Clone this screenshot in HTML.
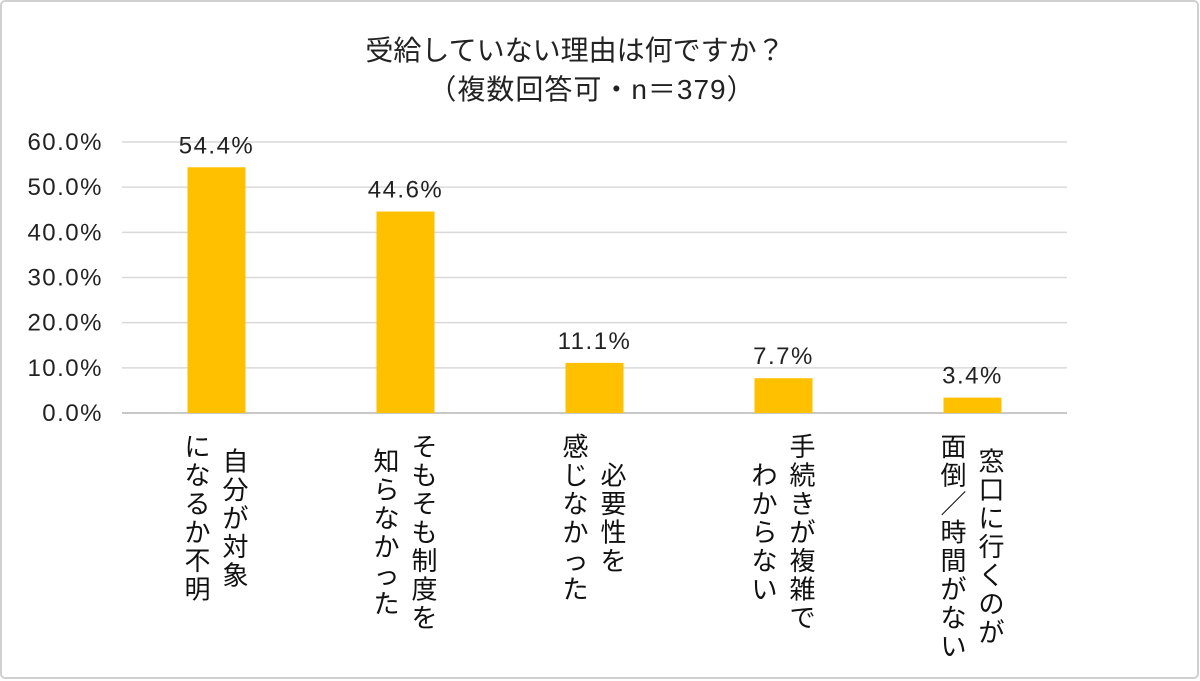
<!DOCTYPE html>
<html><head><meta charset="utf-8"><style>
html,body{margin:0;padding:0;background:#fff}
svg{display:block;font-family:"Liberation Sans","Noto Sans CJK JP",sans-serif}
</style></head><body>
<svg width="1200" height="681" viewBox="0 0 1200 681">
<rect x="1" y="1" width="1197" height="677" rx="4" fill="#fff" stroke="#d0d0d0" stroke-width="2"/>
<text x="575" y="60" font-size="28" text-anchor="middle" fill="#222">受給していない理由は何ですか？</text>
<text x="592" y="99" font-size="28" text-anchor="middle" fill="#222" letter-spacing="1">（複数回答可・n＝379）</text>
<g id="grid"></g><g id="bars"></g><g id="labels"></g>
</svg>
<script>
const categories=[["自分が対象","になるか不明"],["そもそも制度を","知らなかった"],["必要性を","感じなかった"],["手続きが複雑で","わからない"],["窓口に行くのが","面倒／時間がない"]];
const values=[54.4,44.6,11.1,7.7,3.4];
const ticks=[0,10,20,30,40,50,60];
const NS="http://www.w3.org/2000/svg";
const x0=122,step=189,y0=413,pxPer=45.17,barW=58;
const y=v=>y0-v*pxPer/10;
const xc=i=>x0+step*(i+0.5);
function mk(t,a,p){const e=document.createElementNS(NS,t);for(const k in a)e.setAttribute(k,a[k]);p.appendChild(e);return e;}
const g=document.getElementById('grid'),b=document.getElementById('bars'),l=document.getElementById('labels');
ticks.forEach(t=>{
 const ln=mk('line',{x1:x0,x2:x0+step*5,y1:y(t),y2:y(t),stroke:t===0?'#c8c8c8':'#d9d9d9','stroke-width':t===0?2:1.5},g);
 
 
 const tx=mk('text',{x:103,y:y(t)+8,'font-size':24,'letter-spacing':1.5,'text-anchor':'end',fill:'#222'},g);
 tx.textContent=t.toFixed(1)+'%';
 
 
});
values.forEach((v,i)=>{
 const r=mk('rect',{x:xc(i)-barW/2,y:y(v),width:barW,height:y0-y(v),fill:'#FFC000'},b);
 
 
 const t=mk('text',{x:xc(i),y:y(v)-14,'font-size':24,'letter-spacing':1.5,'text-anchor':'middle',fill:'#222'},b);
 t.textContent=v.toFixed(1)+'%';
 
 
 const lines=categories[i];
 const maxLen=Math.max(...lines.map(s=>s.length));
 const pitch=28.5,top=432,cy=top+maxLen*pitch/2;
 lines.forEach((s,j)=>{
  const cx=xc(i)+19-j*38;
  const st=cy-s.length*pitch/2;
  const grp=mk('g',{},l);
  
  
  [...s].forEach((ch,k)=>{
   const t2=mk('text',{x:cx,y:st+k*pitch+24,'font-size':26,'text-anchor':'middle',fill:'#111'},grp);
   t2.textContent=ch;
  });
 });
});
</script>
</body></html>
